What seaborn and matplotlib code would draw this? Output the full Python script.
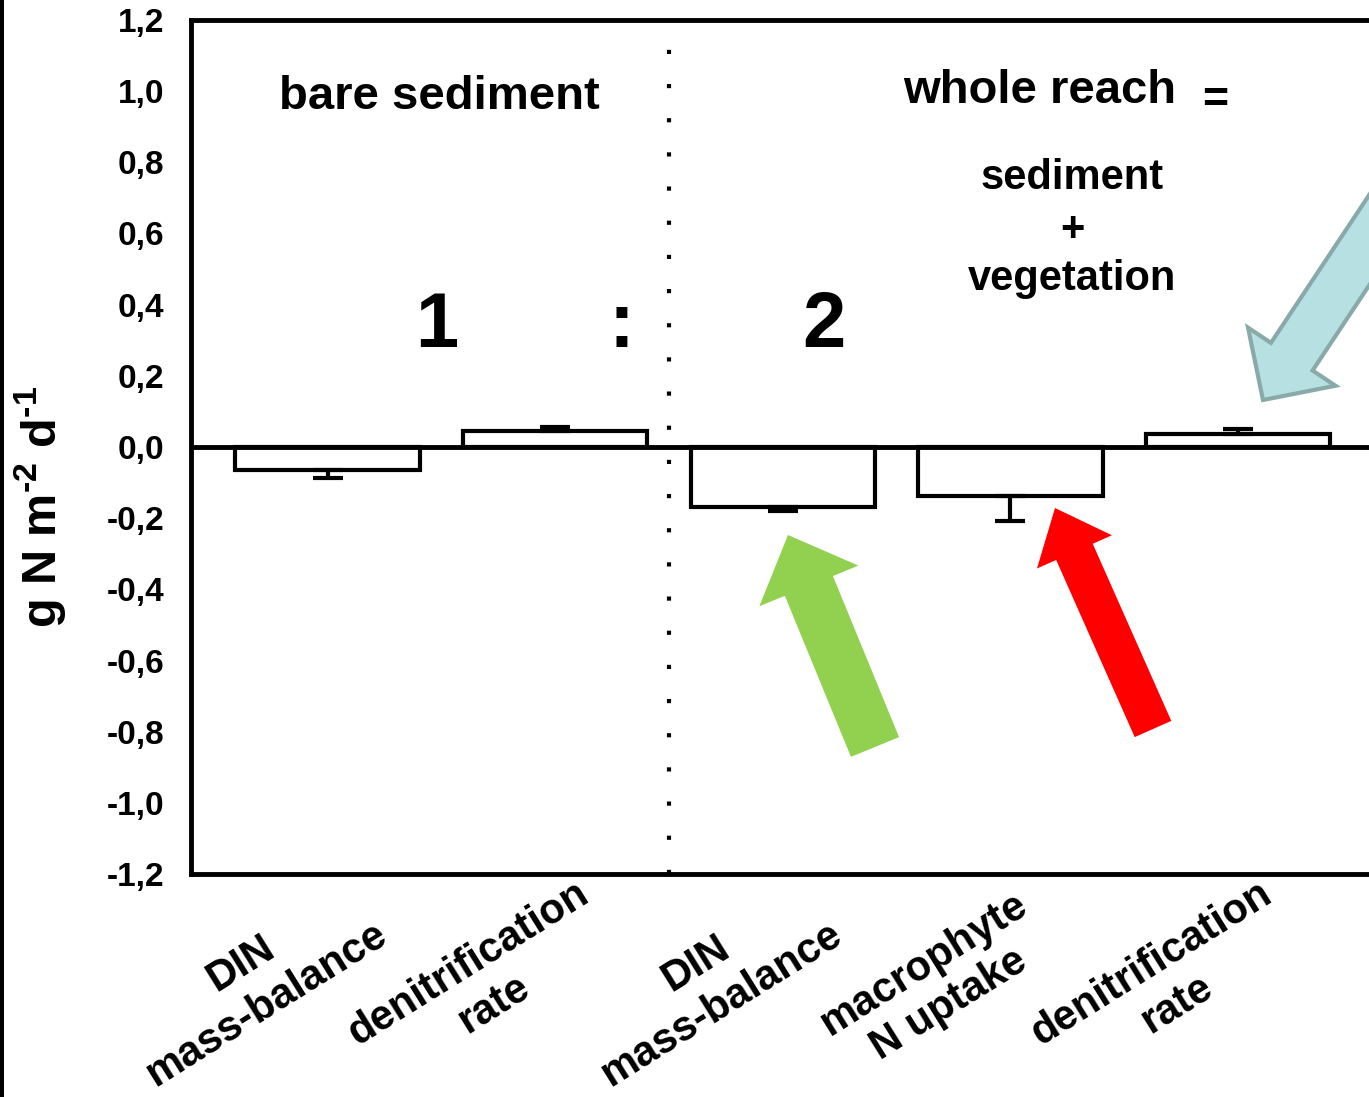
import matplotlib
matplotlib.use("Agg")
import matplotlib.pyplot as plt
import matplotlib.transforms as mtransforms
from matplotlib.patches import FancyArrow, Rectangle
import seaborn as sns
import pandas as pd

# ---- data ----
categories = ["DIN\nmass-balance", "denitrification\nrate", "DIN \nmass-balance",
              "macrophyte\nN uptake", "denitrification \nrate"]
values = [-0.065, 0.045, -0.168, -0.138, 0.037]
errors = [0.022, 0.011, 0.013, 0.070, 0.013]
ytick_values = [-1.2, -1.0, -0.8, -0.6, -0.4, -0.2, 0.0, 0.2, 0.4, 0.6, 0.8, 1.0, 1.2]
ytick_labels = ["-1,2", "-1,0", "-0,8", "-0,6", "-0,4", "-0,2", "0,0",
                "0,2", "0,4", "0,6", "0,8", "1,0", "1,2"]
xtick_labels = ["DIN\nmass-balance", "denitrification\nrate", "DIN\nmass-balance",
                "macrophyte\nN uptake", "denitrification\nrate"]

sns.set_theme(style="white")
plt.rcParams["font.family"] = ["Liberation Sans", "DejaVu Sans"]
plt.rcParams["font.weight"] = "bold"
plt.rcParams["mathtext.fontset"] = "custom"
plt.rcParams["mathtext.rm"] = "Liberation Sans:bold"
plt.rcParams["mathtext.bf"] = "Liberation Sans:bold"
plt.rcParams["mathtext.it"] = "Liberation Sans:bold"
plt.rcParams["mathtext.default"] = "bf"
plt.rcParams["axes.unicode_minus"] = False

W, H = 1369, 1097
fig = plt.figure(figsize=(W / 100, H / 100), dpi=100)
ax = fig.add_axes([191 / W, (H - 874) / H, (1369 - 191) / W, (874 - 20) / H])

df = pd.DataFrame({"cat": categories, "val": values})
sns.barplot(data=df, x="cat", y="val", order=categories, color="white",
            edgecolor="black", linewidth=3.0, width=0.81, errorbar=None,
            saturation=1, ax=ax)

# one-sided (outward) error bars
lower = [e if v < 0 else 0 for v, e in zip(values, errors)]
upper = [e if v >= 0 else 0 for v, e in zip(values, errors)]
ax.errorbar(range(len(values)), values, yerr=[lower, upper], fmt="none",
            ecolor="black", elinewidth=3.0, capsize=10.5, capthick=3.0, zorder=3)

ax.axhline(0, color="black", lw=3.5, zorder=4)
ax.axvline(1.5, color="black", lw=3.0, linestyle=(0, (1, 7.2)),
           dash_capstyle="butt", zorder=4)

ax.set_xlim(-0.6, 4.575)
ax.set_ylim(-1.2, 1.2)
ax.set_yticks(ytick_values)
ax.set_yticklabels(ytick_labels, fontsize=24, fontweight="bold")
ax.set_xticks(range(len(categories)))
ax.set_xticklabels(xtick_labels, fontsize=30, fontweight="bold",
                   rotation=32, ha="center", va="center",
                   rotation_mode="anchor", multialignment="center",
                   linespacing=1.25)
ax.set_xlabel("")
ax.set_ylabel(r"g N m$^{\text{-}2}$ d$^{\text{-}1}$", fontsize=35,
              fontweight="bold", color="black")
ax.yaxis.set_label_coords(-0.104, 0.43)

for sp in ["left", "bottom", "top"]:
    ax.spines[sp].set_visible(True)
    ax.spines[sp].set_color("black")
    ax.spines[sp].set_linewidth(3.5)
ax.spines["right"].set_visible(False)
ax.tick_params(axis="both", direction="out", length=11, width=3.0,
               color="black", labelcolor="black")
ax.tick_params(axis="y", pad=8)
ax.tick_params(axis="x", pad=0)

# shift x tick labels to sit below-left of the ticks (as in the reference)
offset = mtransforms.ScaledTranslation(-0.74, -0.95, fig.dpi_scale_trans)
for lab in ax.get_xticklabels():
    lab.set_transform(lab.get_transform() + offset)

# annotations
txt = dict(fontweight="bold", color="black", ha="center", va="center")
ax.text(0.49, 0.983, "bare sediment", fontsize=34, **txt)
ax.text(3.13, 1.0, "whole reach", fontsize=34, **txt)
ax.text(3.90, 0.975, "=", fontsize=32, **txt)
ax.text(3.27, 0.756, "sediment", fontsize=30, **txt)
ax.text(3.27, 0.61, "+", fontsize=30, **txt)
ax.text(3.27, 0.472, "vegetation", fontsize=30, **txt)
ax.text(0.48, 0.34, "1", fontsize=56, **txt)
ax.text(1.29, 0.34, ":", fontsize=56, **txt)
ax.text(2.18, 0.34, "2", fontsize=56, **txt)

# arrows in pixel (display) coordinates
ident = mtransforms.IdentityTransform()
def arrow(x0, y0, x1, y1, width, hw, hl, fc, ec, lw):
    a = FancyArrow(x0, H - y0, x1 - x0, (H - y1) - (H - y0), width=width,
                   head_width=hw, head_length=hl, length_includes_head=True,
                   transform=ident, facecolor=fc, edgecolor=ec, linewidth=lw,
                   clip_on=False, zorder=10)
    fig.add_artist(a)

arrow(875, 747, 788, 535, 52, 107, 55, "#92D050", "none", 0)
arrow(1153, 729, 1055, 508, 40, 82, 48, "#FF0000", "none", 0)
arrow(1439, 135, 1263, 400, 50, 105, 52, "#B7E0E3", "#8AAAAA", 3)

# black border line at left edge
fig.add_artist(Rectangle((0, 0), 4, H, transform=ident, facecolor="black",
                         edgecolor="none"))

fig.savefig("out.png", dpi=100)
